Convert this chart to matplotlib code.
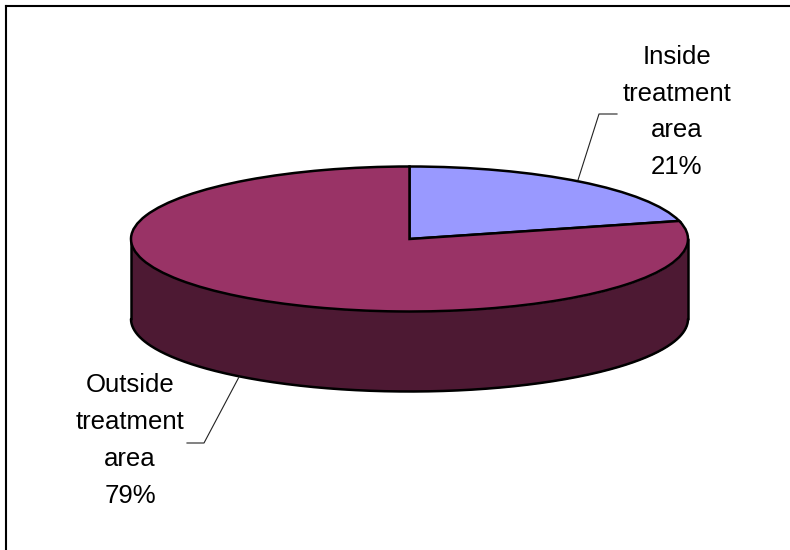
import numpy as np
import matplotlib
matplotlib.use("Agg")
import matplotlib.pyplot as plt
from matplotlib.lines import Line2D

labels = ["Inside\ntreatment\narea\n21%", "Outside\ntreatment\narea\n79%"]
shares = [21, 79]
colors = ["#9999FF", "#993366"]
side_color = "#4D1933"

plt.rcParams["font.family"] = ["Liberation Sans", "DejaVu Sans"]

W, H = 790, 550
cx, cy = 409.5, 239    # pie centre, px from top left
rx, ry = 278.5, 72.5   # ellipse radii, px
depth = 80 / ry        # height of the side wall, in pie radii
edge = 1.8

fig = plt.figure(figsize=(W / 100, H / 100), dpi=100)
ax = fig.add_axes([0, 0, 1, 1])

ax.pie(shares, colors=colors, startangle=90, counterclock=False, radius=1,
       wedgeprops=dict(edgecolor="black", linewidth=edge, zorder=3), frame=False)

# pie() forces equal aspect, squash it into the tilted ellipse
ax.set_aspect("auto")
ax.set_xlim(-cx / rx, (W - cx) / rx)
ax.set_ylim(-(H - cy) / ry, cy / ry)
ax.axis("off")

# side wall below the front half
t = np.linspace(np.pi, 2 * np.pi, 300)
ax.fill_between(np.cos(t), np.sin(t) - depth, np.sin(t), color=side_color, lw=0, zorder=1)
ax.plot(np.cos(t), np.sin(t) - depth, color="black", lw=edge, zorder=2, solid_capstyle="round")
ax.plot([-1, -1], [0, -depth], color="black", lw=edge, zorder=2, solid_capstyle="round")
ax.plot([1, 1], [0, -depth], color="black", lw=edge, zorder=2, solid_capstyle="round")


def px(x, y):
    return (x - cx) / rx, (cy - y) / ry


# leader lines
for pts in ([(578, 180), (599, 114), (617, 114)], [(239, 377), (204, 443), (187, 443)]):
    xs, ys = zip(*[px(*p) for p in pts])
    ax.plot(xs, ys, color="#222222", lw=0.8, zorder=4)

ax.text(*px(677, 112), labels[0], ha="center", va="center", fontsize=18.5, linespacing=1.67, zorder=5)
ax.text(*px(130, 440.5), labels[1], ha="center", va="center", fontsize=18.5, linespacing=1.67, zorder=5)

# chart border, only top and left show in the picture
fig.add_artist(Line2D([5.5 / W, 1], [1 - 5.5 / H, 1 - 5.5 / H], color="black", lw=1.5,
                      transform=fig.transFigure))
fig.add_artist(Line2D([5.5 / W, 5.5 / W], [0, 1 - 5.5 / H], color="black", lw=1.5,
                      transform=fig.transFigure))

fig.savefig("out.png", dpi=100)
